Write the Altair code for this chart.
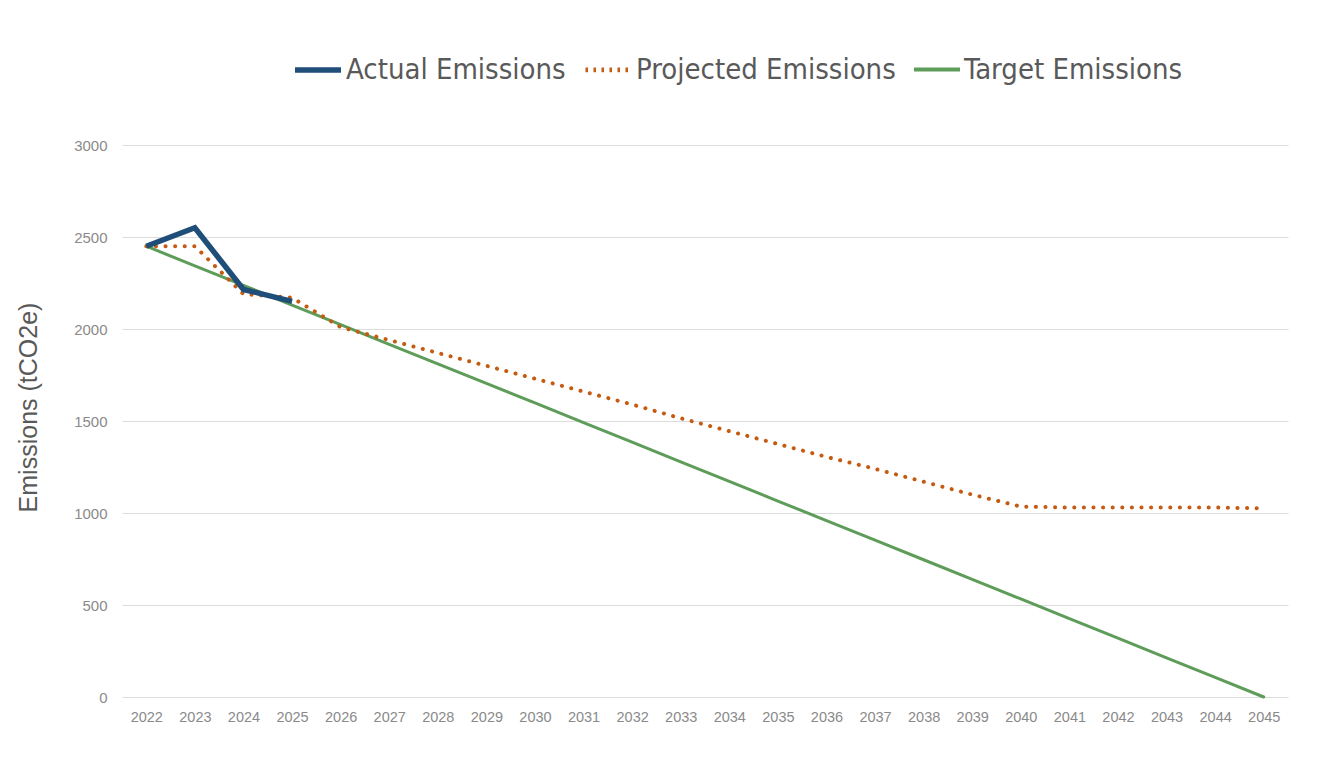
import altair as alt
import pandas as pd

years = [str(y) for y in range(2022, 2046)]

actual_years = ["2022", "2023", "2024", "2025"]
actual_values = [2450, 2550, 2215, 2150]

projected_values = [2450, 2450, 2190, 2170, 2010, 1940, 1870, 1800, 1730, 1660,
                    1590, 1515, 1445, 1375, 1305, 1240, 1170, 1100, 1035, 1030,
                    1030, 1030, 1030, 1025]

target_values = [2450, 2343, 2237, 2130, 2024, 1917, 1811, 1704, 1598, 1491,
                 1385, 1278, 1172, 1065, 959, 852, 746, 639, 533, 426,
                 320, 213, 107, 0]

series_names = ["Actual Emissions", "Projected Emissions", "Target Emissions"]
series_colors = ["#1f4e79", "#c55a11", "#5e9c59"]
series_widths = [5.5, 4, 3]
legend_dashes = [[1, 0], [2.5, 5.5], [1, 0]]

rows = []
for y, v in zip(actual_years, actual_values):
    rows.append({"year": y, "value": v, "series": series_names[0]})
for y, v in zip(years, projected_values):
    rows.append({"year": y, "value": v, "series": series_names[1]})
for y, v in zip(years, target_values):
    rows.append({"year": y, "value": v, "series": series_names[2]})
df = pd.DataFrame(rows)

x_enc = alt.X("year:O", sort=years, title=None,
              axis=alt.Axis(labelAngle=0, ticks=False, domain=False, grid=False,
                            labelFont="Liberation Sans", labelFontSize=14.5,
                            labelColor="#8a8a8a", labelPadding=13))
y_enc = alt.Y("value:Q", title="Emissions (tCO2e)",
              scale=alt.Scale(domain=[0, 3000], nice=False),
              axis=alt.Axis(values=[0, 500, 1000, 1500, 2000, 2500, 3000], format="d",
                            ticks=False, domain=False, gridColor="#dcdcdc", gridWidth=1.2,
                            labelFont="Liberation Sans", labelFontSize=15,
                            labelColor="#8a8a8a", labelPadding=15,
                            titleFont="Liberation Sans", titleFontSize=25,
                            titleFontWeight="normal", titleColor="#595959",
                            titleX=-94, titleY=262, titleAlign="center",
                            titleBaseline="middle", titleAngle=-90))

base = alt.Chart(df)

target = base.transform_filter(alt.datum.series == series_names[2]).mark_line(
    color=series_colors[2], strokeWidth=series_widths[2], strokeCap="round"
).encode(x=x_enc, y=y_enc, order=alt.Order("year:O"))

projected = base.transform_filter(alt.datum.series == series_names[1]).mark_line(
    color=series_colors[1], strokeWidth=series_widths[1], strokeCap="round",
    strokeDash=[0.1, 9.5]
).encode(x=x_enc, y=y_enc, order=alt.Order("year:O"))

actual = base.transform_filter(alt.datum.series == series_names[0]).mark_line(
    color=series_colors[0], strokeWidth=series_widths[0], strokeCap="butt",
    strokeJoin="miter"
).encode(x=x_enc, y=y_enc, order=alt.Order("year:O"))

legend = alt.Legend(
    title=None, orient="none", direction="horizontal",
    legendX=170, legendY=-101,
    symbolType="stroke", symbolSize=2116,
    labelFont="DejaVu Sans Condensed", labelFontSize=29, labelColor="#595959",
    labelOffset=2, columnPadding=10, labelLimit=400,
)

legend_layer = base.transform_filter("false").mark_line().encode(
    x=x_enc, y=y_enc,
    color=alt.Color("series:N", scale=alt.Scale(domain=series_names, range=series_colors),
                    legend=legend),
    strokeWidth=alt.StrokeWidth("series:N", scale=alt.Scale(domain=series_names, range=series_widths),
                                legend=legend),
    strokeDash=alt.StrokeDash("series:N", scale=alt.Scale(domain=series_names, range=legend_dashes),
                              legend=legend),
)

chart = alt.layer(target, projected, actual, legend_layer).properties(
    width=1166, height=552,
    autosize=alt.AutoSizeParams(type="none"),
    padding={"left": 114, "top": 137, "right": 30, "bottom": 50},
    view=alt.ViewBackground(stroke="transparent", strokeWidth=0),
).configure_view(strokeWidth=0, stroke="transparent", strokeOpacity=0).configure(background="white")

chart.save("out.html", embed_options={"renderer": "svg", "actions": False})
